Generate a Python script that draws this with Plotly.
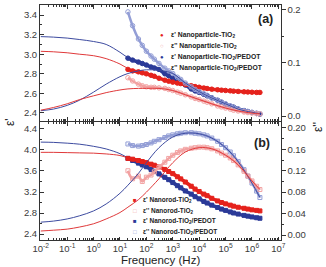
import plotly.graph_objects as go

# ---------------- data ----------------
FIT_F = [0.01, 0.03, 0.1, 0.3, 1, 3, 10, 20, 50, 100, 300, 1e3, 3e3, 1e4, 3e4, 1e5, 3e5, 1e6, 2e6]
MK_F = [20, 30, 50, 70, 100, 150, 200, 300, 500, 700, 1e3, 1.5e3, 2e3, 3e3, 5e3, 7e3,
        1e4, 1.5e4, 2e4, 3e4, 5e4, 7e4, 1e5, 1.5e5, 2e5, 3e5, 5e5, 7e5, 1e6, 1.5e6, 2e6]

# panel (a) nanoparticle
a_red_e1_fit = [3.03, 3.025, 3.015, 3.00, 2.985, 2.955, 2.90, 2.855, 2.82, 2.80, 2.755, 2.715, 2.69, 2.663, 2.643, 2.63, 2.62, 2.612, 2.61]
a_blue_e1_fit = [3.18, 3.175, 3.165, 3.15, 3.13, 3.10, 3.02, 2.965, 2.92, 2.89, 2.845, 2.755, 2.68, 2.61, 2.555, 2.49, 2.44, 2.405, 2.388]
a_red_e2_fit = [0.011, 0.016, 0.023, 0.031, 0.038, 0.044, 0.049, 0.051, 0.052, 0.052, 0.052, 0.048, 0.040, 0.031, 0.023, 0.015, 0.0095, 0.0055, 0.004]
a_blue_e2_fit = [0.010, 0.013, 0.020, 0.030, 0.045, 0.060, 0.074, 0.080, 0.085, 0.087, 0.086, 0.080, 0.062, 0.046, 0.034, 0.023, 0.013, 0.007, 0.0045]

a_red_e1 = [2.845, 2.83, 2.82, 2.81, 2.80, 2.785, 2.775, 2.755, 2.735, 2.725, 2.715, 2.705, 2.70, 2.69, 2.678, 2.67,
            2.663, 2.655, 2.65, 2.643, 2.637, 2.633, 2.63, 2.626, 2.623, 2.62, 2.616, 2.614, 2.612, 2.61, 2.61]
a_blue_e1 = [2.96, 2.94, 2.92, 2.905, 2.89, 2.87, 2.86, 2.845, 2.80, 2.78, 2.755, 2.73, 2.715, 2.685, 2.645, 2.625,
             2.61, 2.59, 2.575, 2.555, 2.53, 2.51, 2.49, 2.47, 2.46, 2.44, 2.425, 2.415, 2.405, 2.395, 2.388]
a_red_e2 = [0.072, 0.066, 0.060, 0.057, 0.055, 0.054, 0.054, 0.053, 0.052, 0.050, 0.048, 0.045, 0.043, 0.040, 0.036, 0.033,
            0.031, 0.028, 0.026, 0.023, 0.019, 0.017, 0.015, 0.013, 0.011, 0.0095, 0.0075, 0.0065, 0.0055, 0.0045, 0.004]
a_blue_e2 = [0.196, 0.170, 0.145, 0.133, 0.122, 0.113, 0.107, 0.099, 0.090, 0.085, 0.080, 0.073, 0.069, 0.062, 0.055, 0.050,
             0.046, 0.042, 0.039, 0.034, 0.029, 0.026, 0.023, 0.019, 0.016, 0.013, 0.010, 0.0085, 0.007, 0.0055, 0.0045]

# panel (b) nanorod
b_red_e1_fit = [3.955, 3.955, 3.95, 3.945, 3.94, 3.925, 3.895, 3.85, 3.80, 3.76, 3.675, 3.55, 3.39, 3.21, 3.08, 2.975, 2.91, 2.86, 2.84]
b_blue_e1_fit = [4.15, 4.145, 4.13, 4.11, 4.07, 4.02, 3.93, 3.85, 3.75, 3.68, 3.545, 3.38, 3.22, 3.07, 2.95, 2.85, 2.78, 2.725, 2.70]
b_red_e2_fit = [0.0075, 0.009, 0.011, 0.015, 0.021, 0.030, 0.042, 0.052, 0.066, 0.080, 0.105, 0.135, 0.155, 0.163, 0.161, 0.149, 0.131, 0.101, 0.085]
b_blue_e2_fit = [0.024, 0.026, 0.030, 0.036, 0.045, 0.058, 0.078, 0.093, 0.115, 0.135, 0.163, 0.183, 0.190, 0.189, 0.181, 0.163, 0.137, 0.097, 0.070]

b_red_e1 = [3.84, 3.825, 3.80, 3.78, 3.76, 3.73, 3.71, 3.675, 3.63, 3.59, 3.55, 3.49, 3.45, 3.39, 3.31, 3.255,
            3.21, 3.16, 3.13, 3.08, 3.03, 3.00, 2.975, 2.95, 2.93, 2.91, 2.89, 2.875, 2.86, 2.85, 2.84]
b_blue_e1 = [3.84, 3.80, 3.75, 3.715, 3.68, 3.63, 3.595, 3.545, 3.48, 3.435, 3.38, 3.32, 3.28, 3.22, 3.16, 3.11,
             3.07, 3.02, 2.99, 2.95, 2.905, 2.875, 2.85, 2.82, 2.80, 2.78, 2.755, 2.74, 2.725, 2.71, 2.70]
b_red_e2 = [0.120, 0.105, 0.110, 0.100, 0.108, 0.112, 0.118, 0.126, 0.136, 0.143, 0.149, 0.154, 0.157, 0.160, 0.162, 0.163,
            0.164, 0.164, 0.163, 0.161, 0.157, 0.153, 0.149, 0.144, 0.139, 0.131, 0.119, 0.110, 0.101, 0.091, 0.085]
b_blue_e2 = [0.170, 0.167, 0.166, 0.167, 0.169, 0.172, 0.175, 0.178, 0.182, 0.185, 0.187, 0.189, 0.190, 0.191, 0.191, 0.190,
             0.189, 0.187, 0.185, 0.181, 0.175, 0.169, 0.163, 0.155, 0.148, 0.137, 0.122, 0.110, 0.097, 0.082, 0.070]

X_EXP = [-2, -1, 0, 1, 2, 3, 4, 5, 6, 7]
A_LEFT_TICKS = [2.4, 2.6, 2.8, 3.0, 3.2, 3.4]
A_RIGHT_TICKS = [0.0, 0.1, 0.2]
B_LEFT_TICKS = [2.4, 2.8, 3.2, 3.6, 4.0, 4.4]
B_RIGHT_TICKS = [0.00, 0.04, 0.08, 0.12, 0.16, 0.20]

LEG_A = ["ε' Nanoparticle-TiO<sub>2</sub>", "ε'' Nanoparticle-TiO<sub>2</sub>",
         "ε' Nanoparticle-TiO<sub>2</sub>/PEDOT", "ε'' Nanoparticle-TiO<sub>2</sub>/PEDOT"]
LEG_B = ["ε' Nanorod-TiO<sub>2</sub>", "ε'' Nanorod-TiO<sub>2</sub>",
         "ε' Nanorod-TiO<sub>2</sub>/PEDOT", "ε'' Nanorod-TiO<sub>2</sub>/PEDOT"]

# ---------------- style ----------------
RED = "#e5221c"
RED_L = "#f2a2a2"
BLUE = "#2b3a98"
BLUE_L = "#939ed6"
RED_LINE = "#e0393a"
BLUE_LINE = "#3d4ba0"
FONT = "Liberation Sans, Arial, sans-serif"
AX = "#333333"

W, H = 326, 267
ML, MR, MT, MB = 40, 45, 5, 27
PW, PH = W - ML - MR, H - MT - MB


def px(x, y):
    return (x - ML) / PW, (H - MB - y) / PH


fig = go.Figure()


def line(xs, ys, color, xa, ya, w=1.0):
    fig.add_trace(go.Scatter(x=xs, y=ys, mode="lines", line=dict(color=color, width=w, shape="spline"),
                             xaxis=xa, yaxis=ya, showlegend=False, hoverinfo="skip"))


def band(xs, ys, color, symbol, xa, ya, size, lw):
    fig.add_trace(go.Scatter(x=xs, y=ys, mode="lines+markers",
                             line=dict(color=color, width=lw, shape="spline"),
                             marker=dict(color=color, symbol=symbol, size=size,
                                         line=dict(color=color, width=1)),
                             xaxis=xa, yaxis=ya, showlegend=False))


# panel (a): x2 with y (left) and y2 (right)
line(FIT_F, a_blue_e1_fit, BLUE_LINE, "x2", "y")
band(MK_F, a_blue_e1, BLUE, "circle", "x2", "y", 4.5, 3.5)
band(MK_F, a_blue_e2, BLUE_L, "circle-open", "x2", "y2", 4.5, 2.5)
band(MK_F, a_red_e2, RED_L, "circle-open", "x2", "y2", 4.5, 2.5)
line(FIT_F, a_blue_e2_fit, BLUE_LINE, "x2", "y2")
line(FIT_F, a_red_e2_fit, RED_LINE, "x2", "y2")
line(FIT_F, a_red_e1_fit, RED_LINE, "x2", "y")
band(MK_F, a_red_e1, RED, "circle", "x2", "y", 4.5, 3.5)

# panel (b): x with y3 (left) and y4 (right)
band(MK_F, b_blue_e2, BLUE_L, "square-open", "x", "y4", 4, 2.5)
band(MK_F, b_red_e2, RED_L, "square-open", "x", "y4", 4, 2.5)
line(FIT_F, b_blue_e2_fit, BLUE_LINE, "x", "y4")
line(FIT_F, b_red_e2_fit, RED_LINE, "x", "y4")
line(FIT_F, b_blue_e1_fit, BLUE_LINE, "x", "y3")
line(FIT_F, b_red_e1_fit, RED_LINE, "x", "y3")
band(MK_F, b_blue_e1, BLUE, "square", "x", "y3", 4, 3.5)
band(MK_F, b_red_e1, RED, "square", "x", "y3", 4, 3.5)

minor_x = [m * 10.0 ** k for k in range(-2, 7) for m in range(2, 10)]
tickfont = dict(family=FONT, size=9.5, color="#3a3a3a")

xcommon = dict(type="log", range=[-2.03, 7.1], showline=True, linecolor=AX, linewidth=1, mirror="ticks",
               ticks="inside", ticklen=3.5, tickcolor=AX, tickvals=[10.0 ** e for e in X_EXP],
               showgrid=False, zeroline=False,
               minor=dict(ticks="inside", ticklen=2, tickcolor=AX, tickvals=minor_x, showgrid=False))

fig.update_layout(
    width=W, height=H, margin=dict(l=ML, r=MR, t=MT, b=MB),
    paper_bgcolor="white", plot_bgcolor="white", showlegend=False,
    xaxis=dict(xcommon, domain=[0, 1], anchor="y3",
               ticktext=["10<sup>%d</sup>" % e for e in X_EXP], tickfont=tickfont),
    xaxis2=dict(xcommon, domain=[0, 1], anchor="y", showticklabels=False),
    yaxis=dict(domain=[0.5064, 1], range=[2.318, 3.503], anchor="x2", tickvals=A_LEFT_TICKS,
               ticktext=["%.1f" % v for v in A_LEFT_TICKS], tickfont=tickfont,
               showline=True, linecolor=AX, ticks="inside", ticklen=3.5, tickcolor=AX, showgrid=False, zeroline=False,
               minor=dict(ticks="inside", ticklen=2, tickcolor=AX, dtick=0.1)),
    yaxis2=dict(range=[-0.0094, 0.209], overlaying="y", side="right", anchor="x2", tickvals=A_RIGHT_TICKS,
                ticktext=["%.1f" % v for v in A_RIGHT_TICKS], tickfont=tickfont,
                showline=True, linecolor=AX, ticks="outside", ticklen=3.5, tickcolor=AX, showgrid=False, zeroline=False,
                minor=dict(ticks="outside", ticklen=2, tickcolor=AX, dtick=0.05)),
    yaxis3=dict(domain=[0, 0.5021], range=[2.286, 4.533], anchor="x", tickvals=B_LEFT_TICKS,
                ticktext=["%.1f" % v for v in B_LEFT_TICKS], tickfont=tickfont,
                showline=True, linecolor=AX, ticks="inside", ticklen=3.5, tickcolor=AX, showgrid=False, zeroline=False,
                minor=dict(ticks="inside", ticklen=2, tickcolor=AX, dtick=0.2)),
    yaxis4=dict(range=[-0.0093, 0.211], overlaying="y3", side="right", anchor="x", tickvals=B_RIGHT_TICKS,
                ticktext=["%.2f" % v for v in B_RIGHT_TICKS], tickfont=tickfont,
                showline=True, linecolor=AX, ticks="outside", ticklen=3.5, tickcolor=AX, showgrid=False, zeroline=False,
                minor=dict(ticks="outside", ticklen=2, tickcolor=AX, dtick=0.02)),
)

ann = []


def text(x, y, s, size, bold=False, angle=0, xanchor="center", color="#222"):
    xp, yp = px(x, y)
    ann.append(dict(x=xp, y=yp, xref="paper", yref="paper", text=("<b>%s</b>" % s) if bold else s,
                    showarrow=False, xanchor=xanchor, yanchor="middle", textangle=angle,
                    font=dict(family=FONT, size=size, color=color)))


text(265, 19, "(a)", 12.5, bold=True)
text(262, 143, "(b)", 12.5, bold=True)
text(10, 122, "ε'", 12, angle=-90)
text(318, 127, "ε''", 12, angle=-90)
text(160, 260, "Frequency (Hz)", 11.5)

leg_cols = [RED, RED_L, BLUE, BLUE_L]
a_syms = ["●", "○", "●", "○"]
b_syms = ["■", "□", "■", "□"]
for i, (lab, col) in enumerate(zip(LEG_A, leg_cols)):
    yy = 35 + i * 11
    text(162, yy, a_syms[i], 6, xanchor="center", color=col)
    text(169, yy, lab, 6.8, bold=True, xanchor="left")
for i, (lab, col) in enumerate(zip(LEG_B, leg_cols)):
    yy = 200 + i * 10.5
    text(135, yy, b_syms[i], 6, xanchor="center", color=col)
    text(141, yy, lab, 6.5, bold=True, xanchor="left")

fig.update_layout(annotations=ann)
fig.write_html("out.html")
